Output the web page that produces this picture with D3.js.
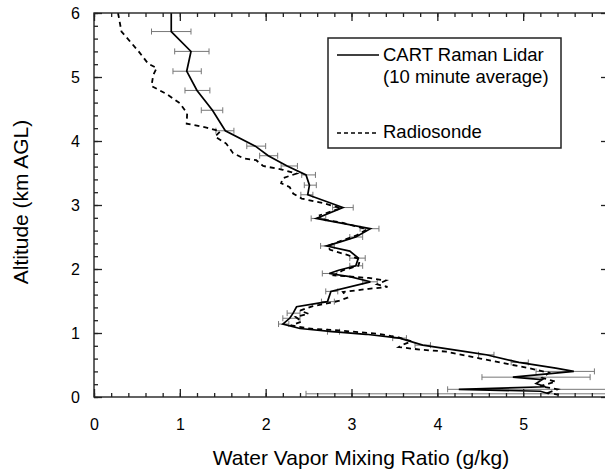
<!DOCTYPE html>
<html>
<head>
<meta charset="utf-8">
<script src="https://cdn.jsdelivr.net/npm/d3@7"></script>
<style>
  body { margin: 0; background: #fff; }
  svg { display: block; font-family: "Liberation Sans", Arial, Helvetica, sans-serif; }
</style>
</head>
<body>
<svg id="chart" width="605" height="473"></svg>
<script>
// CART Raman Lidar profile: mixing ratio (g/kg) and altitude (km AGL)
var lidarX = [0.90, 0.90, 1.13, 1.08, 1.20, 1.38, 1.53, 1.88, 2.03, 2.25, 2.47, 2.51, 2.49, 2.90, 2.59,
  3.22, 3.05, 2.86, 2.71, 2.98, 3.08, 3.05, 2.85, 2.74, 2.98, 3.22, 2.76, 2.72, 2.36, 2.32, 2.28, 2.20,
  2.40, 2.78, 3.17, 3.56, 3.83, 4.33, 4.57, 4.95, 5.38, 5.59, 4.88, 5.22, 5.15, 5.26, 4.25, 5.20, 5.30];
var lidarAlt = [6.00, 5.71, 5.40, 5.09, 4.79, 4.48, 4.16, 3.92, 3.77, 3.61, 3.47, 3.31, 3.16, 2.96, 2.79,
  2.63, 2.50, 2.42, 2.36, 2.28, 2.17, 2.05, 1.98, 1.93, 1.88, 1.80, 1.65, 1.49, 1.41, 1.31, 1.23, 1.14,
  1.07, 1.02, 0.98, 0.92, 0.81, 0.71, 0.66, 0.54, 0.45, 0.40, 0.31, 0.27, 0.21, 0.16, 0.12, 0.09, 0.05];

// lidar error bars: altitude, low and high mixing ratio
var errAlt = [5.71, 5.40, 5.09, 4.79, 4.48, 4.16, 3.92, 3.77, 3.61, 3.47, 3.31, 3.16, 2.96, 2.79, 2.63,
  2.50, 2.36, 2.17, 2.05, 1.93, 1.80, 1.65, 1.49, 1.31, 1.23, 1.14, 1.02, 0.92, 0.81, 0.66, 0.54,
  0.40, 0.31, 0.12, 0.05];
var errLo = [0.67, 0.94, 0.92, 1.06, 1.25, 1.42, 1.78, 1.93, 2.18, 2.42, 2.45, 2.41, 2.78, 2.53, 3.10,
  2.98, 2.64, 2.98, 2.98, 2.66, 3.13, 2.70, 2.65, 2.25, 2.20, 2.15, 2.72, 3.48, 3.74, 4.48, 4.86,
  5.15, 4.52, 4.12, 2.47];
var errHi = [1.13, 1.34, 1.25, 1.35, 1.50, 1.63, 2.00, 2.14, 2.37, 2.58, 2.59, 2.55, 3.02, 2.70, 3.32,
  3.13, 2.80, 3.16, 3.13, 2.83, 3.30, 2.84, 2.80, 2.40, 2.40, 2.27, 2.86, 3.64, 3.92, 4.66, 5.06,
  5.83, 5.78, 6.30, 6.50];

// radiosonde profile
var sondeX = [0.28, 0.32, 0.52, 0.63, 0.73, 0.69, 0.67, 0.85, 1.00, 1.085, 1.08, 1.31, 1.47, 1.41, 1.54,
  1.62, 1.74, 1.89, 1.97, 2.20, 2.36, 2.20, 2.18, 2.28, 2.32, 2.42, 2.67, 2.88, 2.63, 2.65, 2.90, 3.18,
  3.05, 2.90, 2.72, 2.75, 2.95, 3.10, 3.08, 2.90, 2.80, 3.20, 3.40, 3.30, 3.42, 3.20, 2.90, 2.95, 2.85,
  2.55, 2.40, 2.50, 2.35, 2.42, 2.30, 2.50, 2.85, 3.30, 3.55, 3.70, 3.60, 3.55, 3.80, 4.10, 4.50, 4.88,
  5.07, 5.30, 5.22, 5.38, 5.20, 5.40, 5.30, 5.45];
var sondeAlt = [6.00, 5.71, 5.40, 5.21, 5.14, 5.03, 4.86, 4.73, 4.59, 4.43, 4.27, 4.21, 4.15, 4.07, 3.96,
  3.81, 3.73, 3.70, 3.61, 3.55, 3.49, 3.42, 3.34, 3.28, 3.18, 3.10, 3.03, 2.95, 2.84, 2.78, 2.72, 2.62,
  2.52, 2.45, 2.36, 2.30, 2.22, 2.15, 2.05, 1.98, 1.90, 1.86, 1.82, 1.76, 1.72, 1.69, 1.64, 1.55, 1.50,
  1.42, 1.35, 1.30, 1.25, 1.18, 1.12, 1.07, 1.04, 0.99, 0.93, 0.87, 0.82, 0.78, 0.74, 0.71, 0.60, 0.50,
  0.45, 0.38, 0.30, 0.24, 0.17, 0.12, 0.07, 0.02];

var xLabels = [0, 1, 2, 3, 4, 5];
var yLabels = [0, 1, 2, 3, 4, 5, 6];

var svg = d3.select("#chart");

var x = d3.scaleLinear().domain([0, 6]).range([94, 609]);
var y = d3.scaleLinear().domain([0, 6]).range([397, 13]);

var lidar = lidarX.map(function(d, i) { return [d, lidarAlt[i]]; });
var sonde = sondeX.map(function(d, i) { return [d, sondeAlt[i]]; });

var plot = svg.append("g");
plot.append("clipPath").attr("id", "clip")
  .append("rect").attr("x", 94).attr("y", 13).attr("width", 515).attr("height", 384);

var line = d3.line()
  .x(function(d) { return x(d[0]); })
  .y(function(d) { return y(d[1]); });

var inner = plot.append("g").attr("clip-path", "url(#clip)");

// error bars
errAlt.forEach(function(a, i) {
  var g = inner.append("g").attr("stroke", "#777").attr("stroke-width", 1);
  g.append("line").attr("x1", x(errLo[i])).attr("x2", x(errHi[i]))
    .attr("y1", y(a)).attr("y2", y(a));
  [errLo[i], errHi[i]].forEach(function(v) {
    g.append("line").attr("x1", x(v)).attr("x2", x(v))
      .attr("y1", y(a) - 3).attr("y2", y(a) + 3);
  });
});

inner.append("path").datum(sonde)
  .attr("d", line).attr("fill", "none")
  .attr("stroke", "#000").attr("stroke-width", 1.8)
  .attr("stroke-dasharray", "5,4");

inner.append("path").datum(lidar)
  .attr("d", line).attr("fill", "none")
  .attr("stroke", "#000").attr("stroke-width", 1.7);

// axes: minor ticks every 0.2, major at integers, all pointing inward
var minor = d3.range(0, 6.01, 0.2);
function styleAxis(g) {
  g.select(".domain").remove();
  g.selectAll("line").attr("stroke", "#222").attr("stroke-width", 1.3);
  g.selectAll("text").attr("fill", "#000").style("font-size", "16px");
}

svg.append("g").attr("transform", "translate(0,397)")
  .call(d3.axisBottom(x).tickValues(minor).tickSize(-4).tickFormat(""))
  .call(styleAxis);
svg.append("g").attr("transform", "translate(0,397)")
  .call(d3.axisBottom(x).tickValues(xLabels).tickSize(-8).tickPadding(22).tickFormat(d3.format("d")))
  .call(styleAxis);
svg.append("g").attr("transform", "translate(0,13)")
  .call(d3.axisTop(x).tickValues(minor).tickSize(-4).tickFormat(""))
  .call(styleAxis);
svg.append("g").attr("transform", "translate(0,13)")
  .call(d3.axisTop(x).tickValues(xLabels).tickSize(-8).tickFormat(""))
  .call(styleAxis);

svg.append("g").attr("transform", "translate(94,0)")
  .call(d3.axisLeft(y).tickValues(minor).tickSize(-4).tickFormat(""))
  .call(styleAxis);
svg.append("g").attr("transform", "translate(94,0)")
  .call(d3.axisLeft(y).tickValues(yLabels).tickSize(-8).tickPadding(14).tickFormat(d3.format("d")))
  .call(styleAxis);
svg.append("g").attr("transform", "translate(609,0)")
  .call(d3.axisRight(y).tickValues(minor).tickSize(-4).tickFormat(""))
  .call(styleAxis);
svg.append("g").attr("transform", "translate(609,0)")
  .call(d3.axisRight(y).tickValues(yLabels).tickSize(-8).tickFormat(""))
  .call(styleAxis);

// frame
svg.append("rect").attr("x", 94).attr("y", 13).attr("width", 515).attr("height", 384)
  .attr("fill", "none").attr("stroke", "#222").attr("stroke-width", 1.4);

// titles
svg.append("text").attr("x", 361).attr("y", 458).attr("dy", "0.35em")
  .attr("text-anchor", "middle").style("font-size", "21px").text("Water Vapor Mixing Ratio (g/kg)");
svg.append("text").attr("transform", "translate(21,202) rotate(-90)").attr("dy", "0.35em")
  .attr("text-anchor", "middle").style("font-size", "21px").text("Altitude (km AGL)");

// legend
var leg = svg.append("g");
leg.append("rect").attr("x", 328).attr("y", 38).attr("width", 233).attr("height", 110)
  .attr("fill", "#fff").attr("stroke", "#222").attr("stroke-width", 1.5);
leg.append("line").attr("x1", 337).attr("x2", 379).attr("y1", 55).attr("y2", 55)
  .attr("stroke", "#000").attr("stroke-width", 1.5);
leg.append("line").attr("x1", 337).attr("x2", 379).attr("y1", 133).attr("y2", 133)
  .attr("stroke", "#000").attr("stroke-width", 1.5).attr("stroke-dasharray", "4,3");
leg.append("text").attr("x", 383).attr("y", 55).attr("dy", "0.35em").style("font-size", "18.5px").text("CART Raman Lidar");
leg.append("text").attr("x", 383).attr("y", 77).attr("dy", "0.35em").style("font-size", "18.5px").text("(10 minute average)");
leg.append("text").attr("x", 383).attr("y", 132).attr("dy", "0.35em").style("font-size", "18.5px").text("Radiosonde");
</script>
</body>
</html>
